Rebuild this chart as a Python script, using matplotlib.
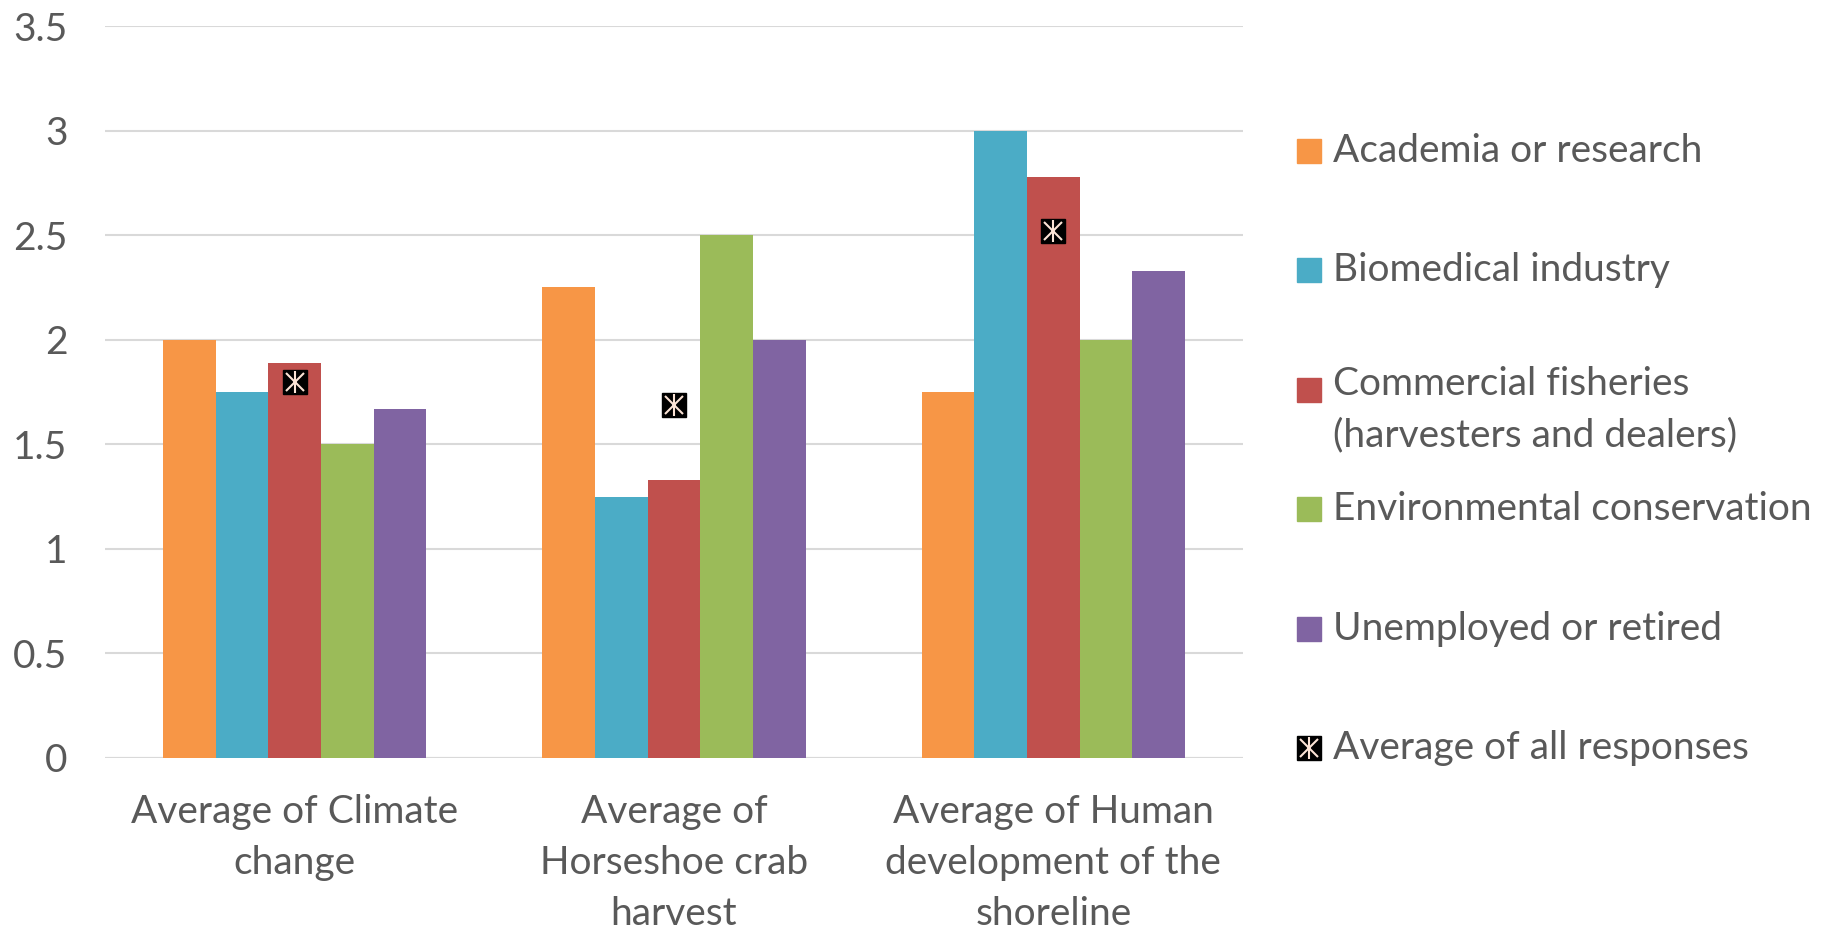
from matplotlib import pyplot as plt
from matplotlib.patches import Rectangle
import numpy as np

plt.rcParams['font.family'] = ['Lato', 'DejaVu Sans']
plt.rcParams['font.size'] = 28

categories = ["Average of Climate\nchange",
              "Average of\nHorseshoe crab\nharvest",
              "Average of Human\ndevelopment of the\nshoreline"]
groups = ["Academia or research",
          "Biomedical industry",
          "Commercial fisheries\n(harvesters and dealers)",
          "Environmental conservation",
          "Unemployed or retired"]
academia = [2.0, 2.25, 1.75]
biomedical = [1.75, 1.25, 3.0]
fisheries = [1.89, 1.33, 2.78]
conservation = [1.5, 2.5, 2.0]
unemployed = [1.67, 2.0, 2.33]
all_avg = [1.80, 1.69, 2.52]
avg_label = "Average of all responses"

colors = ['#F79646', '#4BACC6', '#C0504D', '#9BBB59', '#8064A2']
textcol = '#595959'
starcol = '#FCE4D6'

series = [academia, biomedical, fisheries, conservation, unemployed]

fig = plt.figure(figsize=(18.35, 9.33), dpi=100)
ax = fig.add_axes([0.0572, 0.1876, 0.6202, 0.7845])

x = np.arange(len(categories))
w = 0.139
for i, vals in enumerate(series):
    ax.bar(x + (i - 2) * w, vals, w, color=colors[i], zorder=2)

# average marker: black square with a light asterisk on it
ax.plot(x, all_avg, linestyle='none', marker='s', markersize=17,
        color='black', zorder=3)
ax.plot(x, all_avg, linestyle='none', marker='|', markersize=16,
        markeredgewidth=1.5, color=starcol, zorder=4)
ax.plot(x, all_avg, linestyle='none', marker='x', markersize=13,
        markeredgewidth=1.5, color=starcol, zorder=4)

ax.set_xlim(-0.5, 2.5)
ax.set_ylim(0, 3.5)
ax.set_yticks(np.arange(0, 3.51, 0.5))
ax.set_yticklabels(['0', '0.5', '1', '1.5', '2', '2.5', '3', '3.5'])
ax.set_xticks(x)
ax.set_xticklabels(categories, linespacing=1.52)
ax.yaxis.grid(True, color='#D9D9D9', linewidth=1.5, zorder=0)
for s in ax.spines.values():
    s.set_visible(False)
ax.axhline(0, color='#D9D9D9', linewidth=1.5, zorder=1)
ax.tick_params(length=0, colors=textcol, labelsize=28)
ax.tick_params(axis='y', pad=27)
ax.tick_params(axis='x', pad=26)

# legend, evenly spaced like the Excel one
y0 = 1 - 151 / 933
step = 119.4 / 933
xl = 1297 / 1835
xt = 1333 / 1835
labels = groups + [avg_label]
for i, lab in enumerate(labels):
    yy = y0 - i * step
    if i < 5:
        fig.patches.append(Rectangle((xl, yy - 12 / 933), 24 / 1835, 24 / 933,
                                     transform=fig.transFigure, color=colors[i]))
    else:
        xm = xl + 12 / 1835
        fig.lines.append(plt.Line2D([xm], [yy], marker='s', markersize=17,
                                    color='black', transform=fig.transFigure))
        fig.lines.append(plt.Line2D([xm], [yy], marker='|', markersize=16,
                                    markeredgewidth=1.5, color=starcol,
                                    transform=fig.transFigure))
        fig.lines.append(plt.Line2D([xm], [yy], marker='x', markersize=13,
                                    markeredgewidth=1.5, color=starcol,
                                    transform=fig.transFigure))
    if '\n' in lab:
        fig.text(xt, yy + 24 / 933, lab, color=textcol, fontsize=28,
                 va='top', ha='left', linespacing=1.55)
    else:
        fig.text(xt, yy, lab, color=textcol, fontsize=28,
                 va='center', ha='left')

fig.savefig('out.png', dpi=100)
